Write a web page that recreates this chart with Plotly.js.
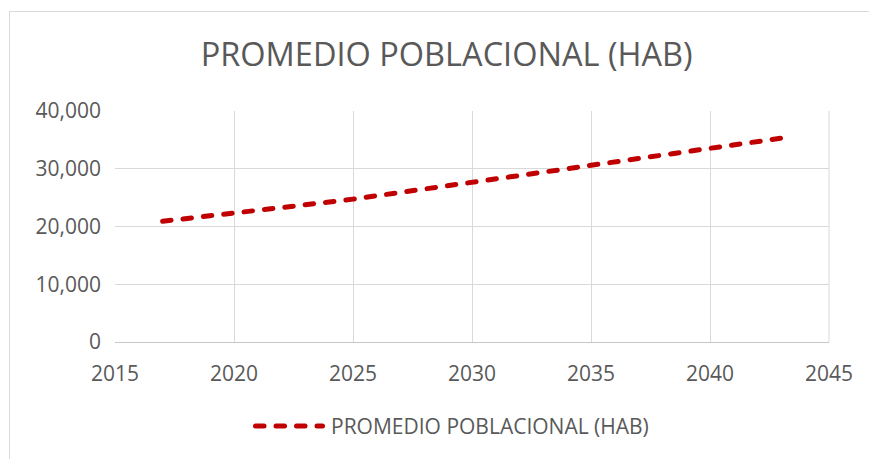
<!DOCTYPE html>
<html>
<head>
<meta charset="utf-8">
<script src="https://cdn.plot.ly/plotly-3.0.1.min.js"></script>
<style>
  html, body { margin: 0; padding: 0; background: #fff; }
  #wrap { position: relative; width: 869px; height: 459px; overflow: hidden; }
  #chart { width: 869px; height: 459px; }
  #frame { position: absolute; left: 9px; top: 11px; width: 900px; height: 500px;
           border: 1px solid #d9d9d9; pointer-events: none; }
  .scatterlayer .js-line, .legendlines path { stroke-linecap: round; }
</style>
</head>
<body>
<div id="wrap">
  <div id="chart"></div>
  <div id="frame"></div>
</div>
<script>
const years = [2017, 2018, 2019, 2020, 2021, 2022, 2023, 2024, 2025, 2026, 2027, 2028, 2029, 2030,
               2031, 2032, 2033, 2034, 2035, 2036, 2037, 2038, 2039, 2040, 2041, 2042, 2043];
const poblacion = [20900, 21350, 21820, 22300, 22780, 23260, 23750, 24240, 24740, 25300, 25860, 26440, 27020, 27600,
                   28200, 28800, 29400, 30000, 30600, 31180, 31760, 32330, 32900, 33480, 34080, 34690, 35300];
const seriesName = 'PROMEDIO POBLACIONAL (HAB)';
const chartTitle = 'PROMEDIO POBLACIONAL (HAB)';
const xTicks = [2015, 2020, 2025, 2030, 2035, 2040, 2045];
const yTicks = [0, 10000, 20000, 30000, 40000];
const yTickText = ['0', '10,000', '20,000', '30,000', '40,000'];

const font = 'Open Sans, sans-serif';
const textColor = '#595959';

const trace = {
  x: years,
  y: poblacion,
  type: 'scatter',
  mode: 'lines',
  name: seriesName,
  line: { color: '#c00000', width: 5, dash: '8.5px,12px' },
  hoverinfo: 'x+y'
};

const layout = {
  width: 869,
  height: 459,
  margin: { l: 115, r: 40, t: 111, b: 114, pad: 0 },
  paper_bgcolor: '#ffffff',
  plot_bgcolor: '#ffffff',
  font: { family: font, color: textColor, size: 21 },
  title: {
    text: chartTitle,
    font: { family: font, size: 32.5, color: textColor },
    x: 0.514, xref: 'container', xanchor: 'center',
    y: 0.88, yref: 'container', yanchor: 'middle'
  },
  xaxis: {
    range: [2015, 2045],
    tickmode: 'array',
    tickvals: xTicks,
    ticktext: xTicks.map(String),
    showgrid: true,
    gridcolor: '#d9d9d9',
    gridwidth: 1,
    showline: true,
    linecolor: '#c8c8c8',
    linewidth: 1,
    zeroline: false,
    ticks: '',
    ticklabelstandoff: 13,
    tickfont: { family: font, size: 21, color: textColor }
  },
  yaxis: {
    range: [0, 40000],
    tickmode: 'array',
    tickvals: yTicks,
    ticktext: yTickText,
    showgrid: true,
    gridcolor: '#d9d9d9',
    gridwidth: 1,
    showline: false,
    zeroline: false,
    ticks: '',
    ticklabelstandoff: 13,
    tickfont: { family: font, size: 21, color: textColor }
  },
  showlegend: true,
  legend: {
    orientation: 'h',
    x: 0.1877, xanchor: 'left',
    y: -0.365, yanchor: 'middle',
    itemwidth: 72,
    font: { family: font, size: 21, color: textColor },
    bgcolor: 'rgba(0,0,0,0)'
  },
  shapes: [
    { type: 'line', xref: 'paper', yref: 'paper', x0: 1, x1: 1, y0: 0, y1: 1,
      line: { color: '#d9d9d9', width: 1 } }
  ]
};

Plotly.newPlot('chart', [trace], layout, { displayModeBar: false, staticPlot: true }).then(function (gd) {
  // widen the legend line sample like the original (Excel-style long sample)
  document.querySelectorAll('.legendlines path').forEach(function (p) {
    p.setAttribute('d', 'M6.5,0h67');
  });
});
</script>
</body>
</html>
